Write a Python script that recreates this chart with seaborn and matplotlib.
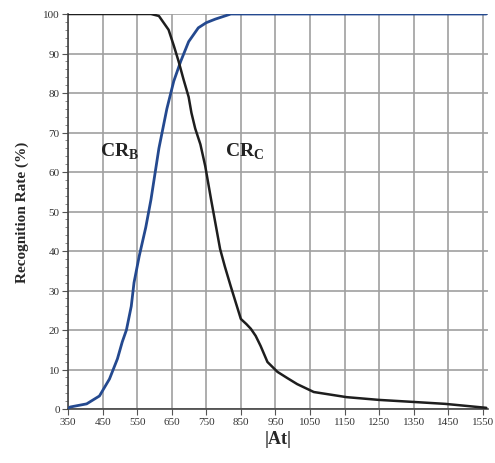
import numpy as np
import pandas as pd
import matplotlib
matplotlib.use("Agg")
import matplotlib.pyplot as plt
import seaborn as sns
from matplotlib.ticker import MultipleLocator

# Black curve (CRc) - recognition rate vs |At|
black_x = [350, 500, 590, 613, 641, 656, 670, 684, 699, 707, 718, 733, 747, 764,
           790, 804, 821, 850, 866, 879, 893, 907, 927, 956, 985, 1013, 1061, 1156, 1250,
           1347, 1441, 1536, 1560]
black_y = [100, 100, 100, 99.5, 96, 92, 88, 83.5, 79, 75, 71, 67, 61.5, 53,
           40.5, 36, 31, 22.8, 21.5, 20.3, 18.5, 16, 11.9, 9.4, 7.8, 6.3, 4.3, 3.0, 2.3,
           1.8, 1.3, 0.5, 0.3]

# Blue curve (CRb)
blue_x = [350, 356, 404, 441, 470, 493, 507, 519, 533, 541, 556, 575, 590, 613, 636,
          656, 676, 699, 727, 750, 776, 821, 900, 1200, 1560]
blue_y = [0, 0.5, 1.3, 3.3, 7.6, 12.7, 17, 20, 26, 32, 38.7, 46, 53, 66, 76,
          83, 88, 93, 96.5, 97.8, 98.7, 100, 100, 100, 100]

x_ticks = [350, 450, 550, 650, 750, 850, 950, 1050, 1150, 1250, 1350, 1450, 1550]
y_ticks = [0, 10, 20, 30, 40, 50, 60, 70, 80, 90, 100]

sns.set_theme(style="white")
plt.rcParams['font.family'] = ['Liberation Serif', 'DejaVu Serif']
plt.rcParams['mathtext.fontset'] = 'custom'
plt.rcParams['mathtext.rm'] = 'Liberation Serif'
plt.rcParams['mathtext.bf'] = 'Liberation Serif:bold'

fig = plt.figure(figsize=(4.95, 4.64), dpi=100)
ax = fig.add_axes([68/495, 54/464, (488-68)/495, (410-15)/464])

df_b = pd.DataFrame({"x": black_x, "y": black_y})
df_u = pd.DataFrame({"x": blue_x, "y": blue_y})
sns.lineplot(data=df_u, x="x", y="y", ax=ax, color="#24498f", linewidth=2.0, zorder=3)
sns.lineplot(data=df_b, x="x", y="y", ax=ax, color="#1e1e1e", linewidth=1.8, zorder=3)

ax.set_xlim(350, 1565)
ax.set_ylim(0, 100)
ax.set_xticks(x_ticks)
ax.set_yticks(y_ticks)
ax.yaxis.set_minor_locator(MultipleLocator(2))
ax.grid(True, which="major", color="#a0a0a0", linewidth=1.2)
ax.tick_params(axis="both", which="major", labelsize=8, length=4, width=0.8,
               direction="out", color="#555555", pad=2, bottom=True, left=True,
               labelcolor="#333333")
ax.tick_params(axis="y", which="minor", length=2, width=0.6, color="#777777", left=True)
for s in ["top", "right"]:
    ax.spines[s].set_visible(False)
for s in ["left", "bottom"]:
    ax.spines[s].set_color("#444444")
    ax.spines[s].set_linewidth(1.2)

ax.set_xlabel("|At|", fontsize=13, fontweight="bold", labelpad=3)
ax.set_ylabel("Recognition Rate (%)", fontsize=11, fontweight="bold", labelpad=10)

ax.text(499, 65.3, r"$\mathbf{CR}_{\mathbf{B}}$", fontsize=14, ha="center", va="center", color="#222222")
ax.text(861, 65.3, r"$\mathbf{CR}_{\mathbf{C}}$", fontsize=14, ha="center", va="center", color="#222222")

fig.savefig("out.png", dpi=100)
